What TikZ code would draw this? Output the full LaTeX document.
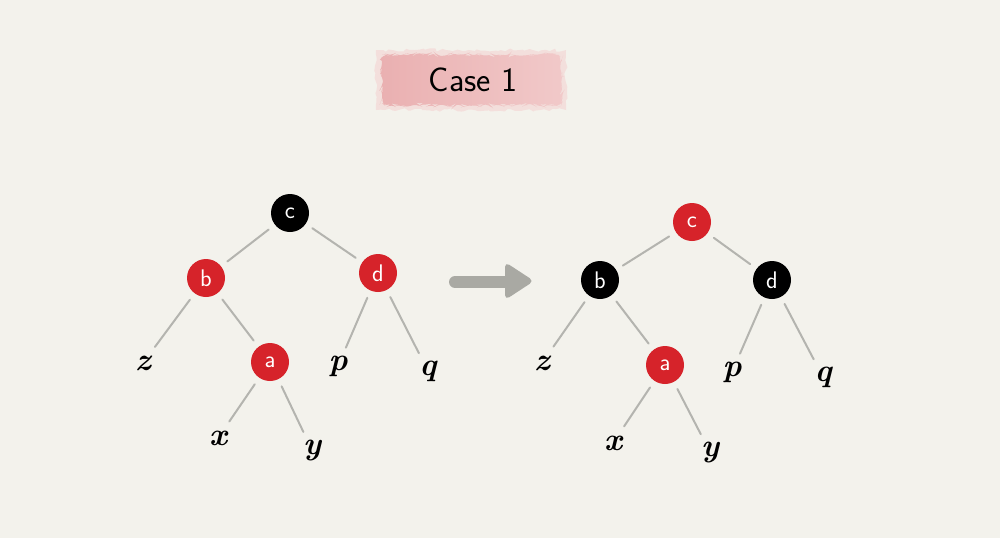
\documentclass[tikz,border=0pt]{standalone}
\usetikzlibrary{decorations.pathmorphing}
\definecolor{bg}{HTML}{F3F2EC}
\definecolor{rbred}{HTML}{D6232A}
\definecolor{edgegray}{HTML}{B4B4AF}
\definecolor{arrowgray}{HTML}{A9A9A3}
\definecolor{pinkA}{HTML}{F3D3D2}
\definecolor{pinkB}{HTML}{EAB0B1}
\definecolor{pinkC}{HTML}{F1C9C9}
\tikzset{
  rbnode/.style={circle, minimum size=38pt, inner sep=0pt, outer sep=8pt, text=white,
    font=\fontsize{24}{24}\selectfont\sffamily},
  rednode/.style={rbnode, fill=rbred},
  blacknode/.style={rbnode, fill=black},
  leaf/.style={circle, minimum size=30pt, inner sep=0pt, outer sep=5pt,
    font=\fontsize{32}{32}\selectfont\bfseries\itshape},
  edge/.style={draw=edgegray, line width=2pt, line cap=round},
  brush/.style={decorate, decoration={random steps, segment length=4pt, amplitude=1.8pt}},
}
\begin{document}
\begin{tikzpicture}[x=1pt, y=-1pt]
\useasboundingbox (0,0) rectangle (1000,538);
\fill[bg] (0,0) rectangle (1000,538);

% title brush stroke
\fill[pinkA, opacity=0.6, brush] (376,50) rectangle (566,110);
\shade[left color=pinkB, right color=pinkC, brush, rounded corners=6pt] (382,55) rectangle (561,105);
\node (title) at (473,80) {\fontsize{34}{34}\selectfont\sffamily Case 1};

% left tree
\node[blacknode] (c1) at (290,213) {c};
\node[rednode] (b1) at (206,278) {b};
\node[rednode] (d1) at (378,273) {d};
\node[rednode] (a1) at (270,362) {a};
\node[leaf] (z1) at (143,363) {z};
\node[leaf] (p1) at (338,366) {p};
\node[leaf] (q1) at (428,371) {q};
\node[leaf] (x1) at (218,438) {x};
\node[leaf] (y1) at (312,450) {y};
\draw[edge] (c1) -- (b1);
\draw[edge] (c1) -- (d1);
\draw[edge] (b1) -- (z1);
\draw[edge] (b1) -- (a1);
\draw[edge] (a1) -- (x1);
\draw[edge] (a1) -- (y1);
\draw[edge] (d1) -- (p1);
\draw[edge] (d1) -- (q1);

% arrow
\coordinate (arrS) at (455,282);
\coordinate (arrE) at (512,282);
\draw[arrowgray, line width=12pt, line cap=round] (arrS) -- (arrE);
\fill[arrowgray, rounded corners=5pt] (505,262) -- (534,281) -- (505,300) -- cycle;

% right tree
\node[rednode] (c2) at (692,222) {c};
\node[blacknode] (b2) at (600,280) {b};
\node[blacknode] (d2) at (772,280) {d};
\node[rednode] (a2) at (665,365) {a};
\node[leaf] (z2) at (542,363) {z};
\node[leaf] (p2) at (732,372) {p};
\node[leaf] (q2) at (823,377) {q};
\node[leaf] (x2) at (613,443) {x};
\node[leaf] (y2) at (710,452) {y};
\draw[edge] (c2) -- (b2);
\draw[edge] (c2) -- (d2);
\draw[edge] (b2) -- (z2);
\draw[edge] (b2) -- (a2);
\draw[edge] (a2) -- (x2);
\draw[edge] (a2) -- (y2);
\draw[edge] (d2) -- (p2);
\draw[edge] (d2) -- (q2);
\end{tikzpicture}
\end{document}
